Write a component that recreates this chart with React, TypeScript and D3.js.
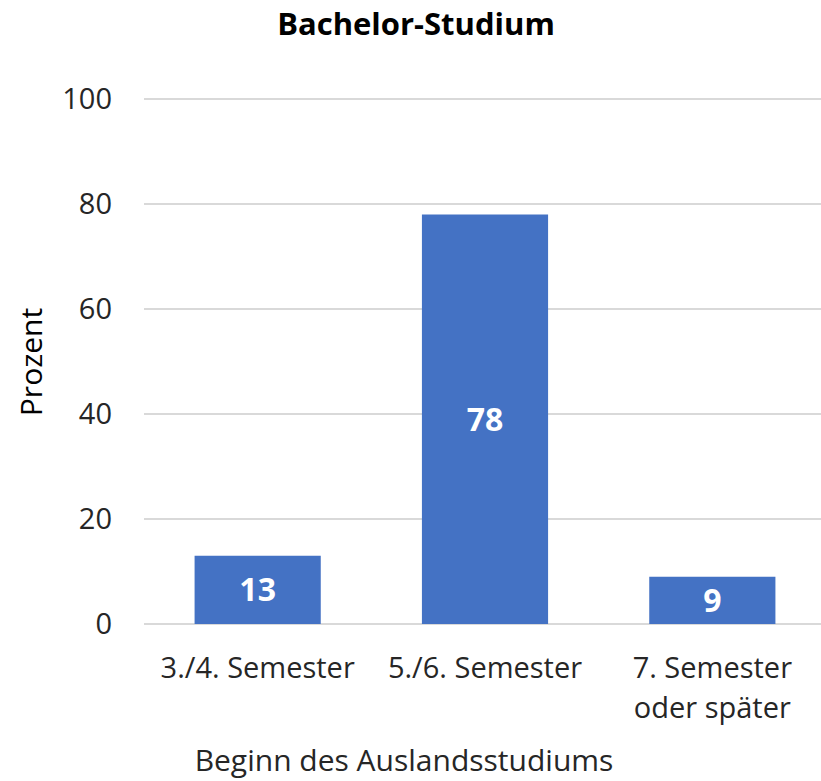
import { useEffect, useRef } from 'react';
import * as d3 from 'd3';

const categories = ['3./4. Semester', '5./6. Semester', '7. Semester oder später'];
const categoryLines = [['3./4. Semester'], ['5./6. Semester'], ['7. Semester', 'oder später']];
const values = [13, 78, 9];
const yTicks = [0, 20, 40, 60, 80, 100];

const title = 'Bachelor-Studium';
const yTitle = 'Prozent';
const xTitle = 'Beginn des Auslandsstudiums';

const width = 821;
const height = 781;
const font = "'Open Sans', 'Noto Sans', sans-serif";

export default function App() {
  const svgRef = useRef<SVGSVGElement>(null);

  useEffect(() => {
    if (!svgRef.current) return;
    const svg = d3.select(svgRef.current);
    svg.selectAll('*').remove();

    const left = 144;
    const right = 826;
    const top = 99;
    const bottom = 624;

    const x = d3.scaleBand()
      .domain(categories)
      .range([left, right])
      .paddingInner(0.445)
      .paddingOuter(0.2225);

    const y = d3.scaleLinear().domain([0, 100]).range([bottom, top]);

    // gridlines
    svg.append('g')
      .selectAll('line')
      .data(yTicks)
      .enter().append('line')
      .attr('x1', left)
      .attr('x2', right)
      .attr('y1', d => y(d))
      .attr('y2', d => y(d))
      .attr('stroke', '#d9d9d9')
      .attr('stroke-width', 2);

    // y tick labels
    svg.append('g')
      .selectAll('text')
      .data(yTicks)
      .enter().append('text')
      .attr('x', 112)
      .attr('y', d => y(d))
      .attr('dy', '0.36em')
      .attr('text-anchor', 'end')
      .style('font-family', font)
      .style('font-size', '29px')
      .style('fill', '#262626')
      .text(d => d);

    // bars
    svg.append('g')
      .selectAll('rect')
      .data(values)
      .enter().append('rect')
      .attr('x', (d, i) => x(categories[i]) || 0)
      .attr('y', d => y(d))
      .attr('width', x.bandwidth())
      .attr('height', d => bottom - y(d))
      .attr('fill', '#4472c4');

    // data labels
    svg.append('g')
      .selectAll('text')
      .data(values)
      .enter().append('text')
      .attr('x', (d, i) => (x(categories[i]) || 0) + x.bandwidth() / 2)
      .attr('y', d => (y(d) + bottom) / 2)
      .attr('dy', '0.36em')
      .attr('text-anchor', 'middle')
      .style('font-family', font)
      .style('font-size', '32px')
      .style('font-weight', 'bold')
      .style('fill', '#ffffff')
      .text(d => d);

    // category labels
    const cat = svg.append('g')
      .selectAll('text')
      .data(categories)
      .enter().append('text')
      .attr('x', d => (x(d) || 0) + x.bandwidth() / 2)
      .attr('y', 678)
      .attr('text-anchor', 'middle')
      .style('font-family', font)
      .style('font-size', '29px')
      .style('fill', '#262626');
    cat.each(function (d, i) {
      const t = d3.select(this);
      categoryLines[i].forEach((line, j) => {
        t.append('tspan')
          .attr('x', (x(d) || 0) + x.bandwidth() / 2)
          .attr('dy', j === 0 ? 0 : 40)
          .text(line);
      });
    });

    // title
    svg.append('text')
      .attr('x', 416)
      .attr('y', 35)
      .attr('text-anchor', 'middle')
      .style('font-family', font)
      .style('font-size', '31px')
      .style('font-weight', 'bold')
      .style('fill', '#000')
      .text(title);

    // axis titles
    svg.append('text')
      .attr('transform', `translate(42,362) rotate(-90)`)
      .attr('text-anchor', 'middle')
      .style('font-family', font)
      .style('font-size', '30px')
      .style('fill', '#000')
      .text(yTitle);

    svg.append('text')
      .attr('x', 404)
      .attr('y', 771)
      .attr('text-anchor', 'middle')
      .style('font-family', font)
      .style('font-size', '30px')
      .style('fill', '#262626')
      .text(xTitle);
  }, []);

  return (
    <svg
      ref={svgRef}
      width={width}
      height={height}
      style={{ position: 'absolute', left: 0, top: 0, background: '#fff' }}
    />
  );
}
